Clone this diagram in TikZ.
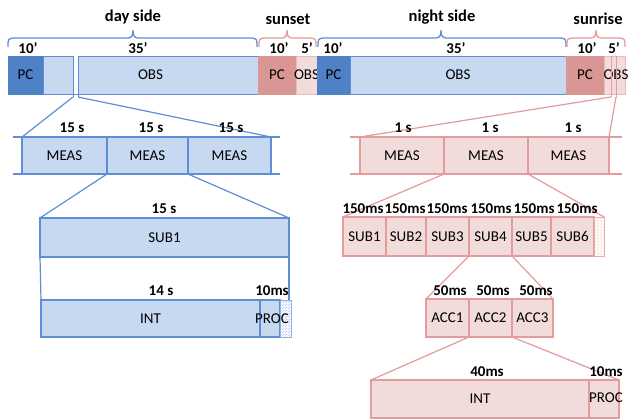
\documentclass[tikz,border=0pt]{standalone}
\usepackage{fontspec}
\setmainfont{Carlito}
\usetikzlibrary{patterns}
\definecolor{pcblue}{RGB}{79,129,199}
\definecolor{lblue}{RGB}{198,217,241}
\definecolor{lnblue}{RGB}{95,142,212}
\definecolor{pcred}{RGB}{217,150,148}
\definecolor{lpink}{RGB}{242,220,219}
\definecolor{lnpink}{RGB}{228,155,155}
\pgfdeclarepatternformonly{finecheck}{\pgfqpoint{0pt}{0pt}}{\pgfqpoint{3pt}{3pt}}{\pgfqpoint{3pt}{3pt}}{%
  \pgfpathrectangle{\pgfqpoint{0pt}{0pt}}{\pgfqpoint{1.5pt}{1.5pt}}%
  \pgfpathrectangle{\pgfqpoint{1.5pt}{1.5pt}}{\pgfqpoint{1.5pt}{1.5pt}}%
  \pgfusepath{fill}}
\tikzset{
  every node/.style={inner sep=0pt, outer sep=0pt},
  txt/.style={font=\fontsize{15}{17}\selectfont},
  lbl/.style={font=\bfseries\fontsize{15}{17}\selectfont},
  ttl/.style={font=\bfseries\fontsize{16.5}{19}\selectfont},
  pcb/.style={fill=pcblue, draw=pcblue, line width=0.8pt},
  obsb/.style={fill=lblue, draw=lnblue, line width=0.8pt},
  pcr/.style={fill=pcred, draw=pcred, line width=0.8pt},
  obsr/.style={fill=lpink, draw=lnpink!70, line width=0.8pt},
  bbox/.style={fill=lblue, draw=lnblue, line width=1.2pt},
  pbox/.style={fill=lpink, draw=lnpink, line width=1.2pt},
  chkb/.style={pattern=finecheck, pattern color=lblue!80!blue!60, draw=lnblue!70, line width=0.8pt},
  chkp/.style={pattern=finecheck, pattern color=lpink!80!red!40, draw=lnpink!80, line width=0.8pt},
  zb/.style={draw=lnblue, line width=1.2pt},
  zp/.style={draw=lnpink, line width=1.2pt},
  brc/.style={line width=1.3pt},
}
\newcommand\blk[7]{\node[#6, minimum width={(#4)-(#2)}, minimum height={(#5)-(#3)}] (#1) at ({((#2)+(#4))/2},{((#3)+(#5))/2}) {};
  \node[txt] (#1t) at (#1.center) {#7};}
\newcommand\tbrace[4]{\draw[brc,#4] (#1,47) .. controls (#1,39) .. (#1+5,38) -- (#3-5,38)
  .. controls (#3-1,38) and (#3,35) .. (#3,30) .. controls (#3,35) and (#3+1,38) .. (#3+5,38)
  -- (#2-5,38) .. controls (#2,39) .. (#2,47);}
\begin{document}
\begin{tikzpicture}[x=1pt,y=-1pt]
\useasboundingbox[fill=white] (0,0) rectangle (630,420);
% titles and braces
\node[ttl] (tday) at (133,17) {day side};
\node[ttl] (tsunset) at (288,19) {sunset};
\node[ttl] (tnight) at (442,17) {night side};
\node[ttl] (tsunrise) at (598,19) {sunrise};
\tbrace{8}{257}{133}{lnblue}
\tbrace{259}{316}{287}{lnpink}
\tbrace{318}{566}{441}{lnblue}
\tbrace{567}{625}{596}{lnpink}
\node[lbl] (d10) at (28,48) {10'};
\node[lbl] (d35) at (138,48) {35'};
\node[lbl] (s10) at (279,48) {10'};
\node[lbl] (s5) at (307,48) {5'};
\node[lbl] (n10) at (333,48) {10'};
\node[lbl] (n35) at (456,48) {35'};
\node[lbl] (r10) at (587,48) {10'};
\node[lbl] (r5) at (614,48) {5'};
% top bar
\blk{dpc}{8}{56}{43}{94}{pcb}{PC}
\blk{dobs}{43}{56}{258}{94}{obsb}{OBS}
\blk{sspc}{258}{56}{296}{94}{pcr}{PC}
\blk{ssobs}{296}{56}{317}{94}{obsr}{OBS}
\blk{npc}{317}{56}{350}{94}{pcb}{PC}
\blk{nobs}{350}{56}{566}{94}{obsb}{OBS}
\blk{srpc}{566}{56}{604}{94}{pcr}{PC}
\blk{srobs}{604}{56}{625}{94}{obsr}{}
\node[txt] (srobst) at (616,75) {OBS};
% break marks
\fill[white] (73.5,56) rectangle (77.5,94);
\coordinate (dba) at (73,97);
\coordinate (dbb) at (78,97);
\draw[zb,line width=1pt] (73,56) -- (dba);
\draw[zb,line width=1pt] (78,56) -- (dbb);
\coordinate (rba) at (611,97);
\coordinate (rbb) at (616,97);
\draw[zp,line width=1pt] (611,56) -- (rba);
\draw[zp,line width=1pt] (616,56) -- (rbb);
% day MEAS
\blk{dm1}{22}{137}{107}{174}{bbox}{MEAS}
\blk{dm2}{107}{137}{188}{174}{bbox}{MEAS}
\blk{dm3}{188}{137}{271}{174}{bbox}{MEAS}
\draw[zb] ([xshift=-9pt]dm1.north west) -- ([xshift=9pt]dm3.north east);
\draw[zb] ([xshift=-9pt]dm1.south west) -- ([xshift=9pt]dm3.south east);
\draw[zb] (dba) -- (dm1.north west);
\draw[zb] (dbb) -- (dm3.north east);
\node[lbl] (dl1) at (72,128) {15 s};
\node[lbl] (dl2) at (151,128) {15 s};
\node[lbl] (dl3) at (231,128) {15 s};
% day SUB1
\blk{dsub}{40}{218}{289}{257}{bbox}{SUB1}
\draw[zb] (dm2.south west) -- (dsub.north west);
\draw[zb] (dm2.south east) -- (dsub.north east);
\node[lbl] (dsl) at (164,209) {15 s};
% day INT
\blk{dint}{41}{300}{260}{337}{bbox}{INT}
\blk{dproc}{260}{300}{280}{337}{bbox}{}
\blk{dchk}{280}{300}{291}{337}{chkb}{}
\node[txt] (dproct) at (272,319) {PROC};
\draw[zb] (dsub.south west) -- (dint.north west);
\draw[zb] (dsub.south east) -- (dsub.south east |- dint.north);
\node[lbl] (dil1) at (161,291) {14 s};
\node[lbl] (dil2) at (272,291) {10ms};
% night MEAS
\blk{nm1}{360}{137}{444}{174}{pbox}{MEAS}
\blk{nm2}{444}{137}{528}{174}{pbox}{MEAS}
\blk{nm3}{528}{137}{609}{174}{pbox}{MEAS}
\draw[zp] ([xshift=-10pt]nm1.north west) -- ([xshift=13pt]nm3.north east);
\draw[zp] ([xshift=-10pt]nm1.south west) -- ([xshift=13pt]nm3.south east);
\draw[zp] (rba) -- (nm1.north west);
\draw[zp] (rbb) -- (nm3.north east);
\node[lbl] (nl1) at (403,128) {1 s};
\node[lbl] (nl2) at (490,128) {1 s};
\node[lbl] (nl3) at (573,128) {1 s};
% night SUB
\blk{ns1}{343}{217}{386}{256}{pbox}{SUB1}
\blk{ns2}{386}{217}{426}{256}{pbox}{SUB2}
\blk{ns3}{426}{217}{469}{256}{pbox}{SUB3}
\blk{ns4}{469}{217}{512}{256}{pbox}{SUB4}
\blk{ns5}{512}{217}{551}{256}{pbox}{SUB5}
\blk{ns6}{551}{217}{594}{256}{pbox}{SUB6}
\blk{nchk}{594}{217}{604}{256}{chkp}{}
\draw[zp] (nm2.south west) -- (ns1.north west);
\draw[zp] (nm2.south east) -- (nchk.north east);
\node[lbl] (nsl1) at (363,209) {150ms};
\node[lbl] (nsl2) at (405,209) {150ms};
\node[lbl] (nsl3) at (447,209) {150ms};
\node[lbl] (nsl4) at (491,209) {150ms};
\node[lbl] (nsl5) at (534,209) {150ms};
\node[lbl] (nsl6) at (577,209) {150ms};
% ACC
\blk{na1}{426}{299}{469}{337}{pbox}{ACC1}
\blk{na2}{469}{299}{512}{337}{pbox}{ACC2}
\blk{na3}{512}{299}{553}{337}{pbox}{ACC3}
\draw[zp] (ns4.south west) -- (na1.north west);
\draw[zp] (ns4.south east) -- (na3.north east);
\node[lbl] (nal1) at (450,291) {50ms};
\node[lbl] (nal2) at (493,291) {50ms};
\node[lbl] (nal3) at (536,291) {50ms};
% night INT
\blk{nint}{371}{380}{589}{418}{pbox}{INT}
\blk{nproc}{589}{380}{619}{418}{pbox}{}
\node[txt] (nproct) at (606,398) {PROC};
\draw[zp] (na2.south west) -- (nint.north west);
\draw[zp] (na2.south east) -- (nproc.north east);
\node[lbl] (nil1) at (487,372) {40ms};
\node[lbl] (nil2) at (606,372) {10ms};
\end{tikzpicture}
\end{document}
